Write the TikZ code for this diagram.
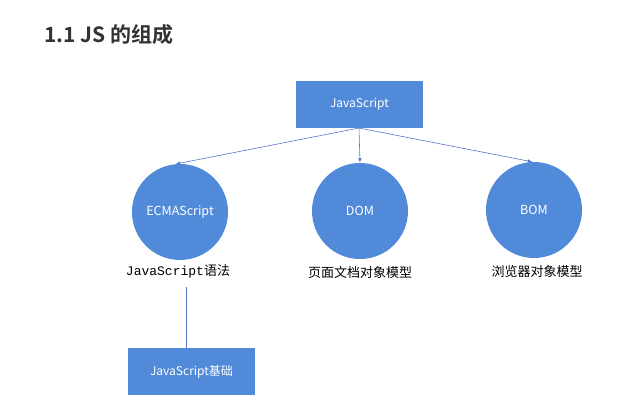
\documentclass[tikz,border=0pt]{standalone}
\usepackage{fontspec}
\usepackage{tikz}
\setmainfont{Noto Sans CJK SC}[BoldFont={Noto Sans CJK SC Bold}]
\newfontfamily\monofont{Liberation Mono}
\usetikzlibrary{arrows}
\usetikzlibrary{positioning}
\definecolor{jsblue}{RGB}{80,138,216}
\definecolor{jsline}{RGB}{88,118,200}
\definecolor{titlegray}{RGB}{51,51,51}
\tikzset{block/.style = {fill = jsblue, text = white, minimum width = 127, minimum height = 47, inner sep = 0, font = \fontsize{12}{14}\selectfont}}
\tikzset{part/.style = {fill = jsblue, text = white, circle, minimum size = 96, inner sep = 0, font = \fontsize{12.5}{15}\selectfont}}
\tikzset{caption/.style = {inner sep = 0, font = \fontsize{13}{15}\selectfont}}
\tikzset{link/.style = {draw = jsline, line width = 0.6, -latex}}

\begin{document}
\begin{tikzpicture}[x=1pt, y=-1pt]
      \useasboundingbox (0, 0) rectangle (622, 408);
      \node [anchor=west, inner sep=0, text=titlegray, font=\fontsize{21}{24}\selectfont\bfseries] (title) at (44, 35) {1.1 JS 的组成};
      \node [block] (js) at (359.5, 104.5) {JavaScript};
      \node [part] (ecma) at (180, 212) {ECMAScript};
      \node [part] (dom) at (360, 211) {DOM};
      \node [part] (bom) at (534, 210) {BOM};
      \node [caption] (ecmatext) at (178, 271) {{\monofont JavaScript}语法};
      \node [caption] (domtext) at (360, 273) {页面文档对象模型};
      \node [caption] (bomtext) at (537, 272) {浏览器对象模型};
      \node [block] (basics) at (191.5, 371.5) {JavaScript基础};
      \coordinate (top) at (359, 128);
      \coordinate (base) at (186, 287);
      \draw [link] (top) -- (ecma.95);
      \draw [link] (top) -- (dom.north);
      \draw [link] (top) -- (bom.92);
      \draw [draw=jsline, line width=0.6] (base) -- (basics.north -| base);
    \end{tikzpicture}
\end{document}
